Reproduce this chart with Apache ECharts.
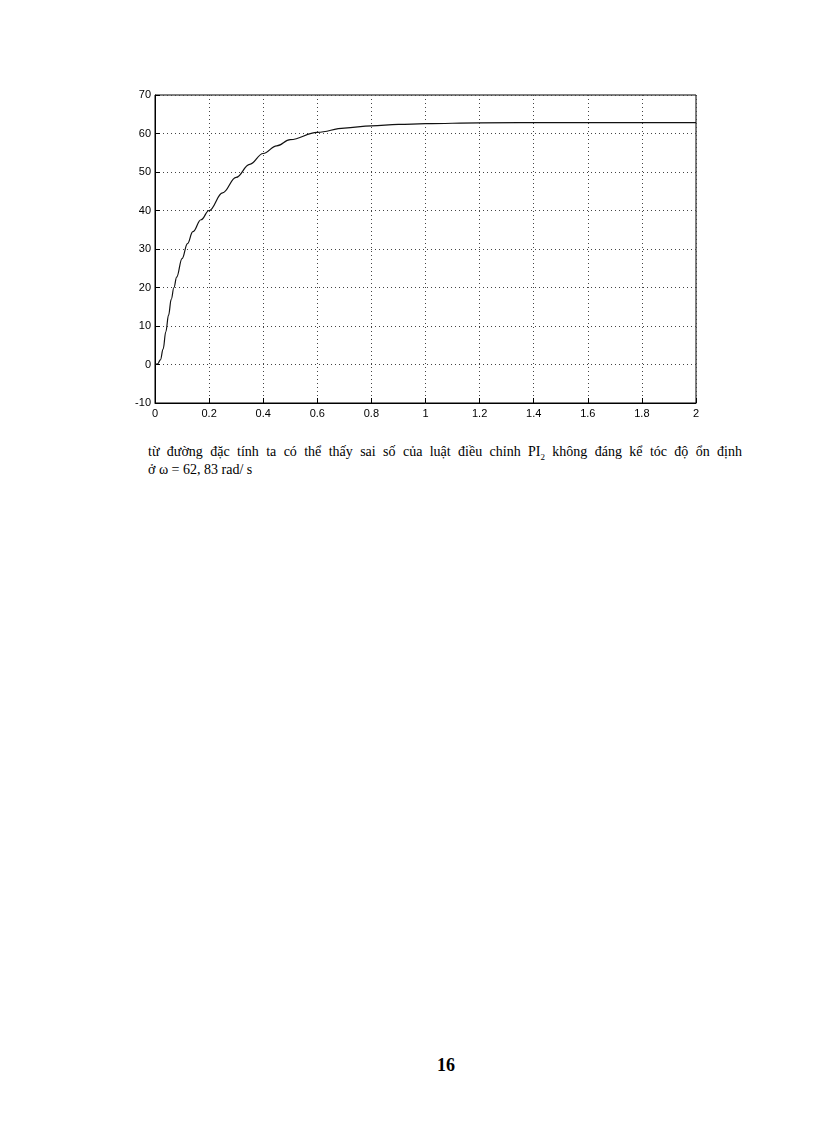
<!DOCTYPE html><html><head><meta charset="utf-8">
<script src="https://cdn.jsdelivr.net/npm/echarts@6/dist/echarts.min.js"></script>
<style>body{margin:0;background:#fff;width:816px;height:1123px;position:relative;font-family:"Liberation Serif",serif}
#c{position:absolute;left:0;top:0;width:816px;height:440px}
.t{position:absolute;left:148px;width:594px;font-size:14px;line-height:18px;text-align:justify;text-align-last:justify}
</style></head><body>
<div id="c"></div>
<div class="t" style="top:443px">từ đường đặc tính ta có thể thấy sai số của luật điều chỉnh PI<sub style="font-size:9px">2</sub> không đáng kể tóc độ ổn định</div>
<div class="t" style="top:461px;text-align-last:left">ở ω = 62, 83 rad/ s</div>
<div style="position:absolute;top:1055px;left:0;width:892px;text-align:center;font-size:18px;font-weight:bold">16</div>
<script>
const tVals=[0,0.01,0.02,0.03,0.04,0.05,0.06,0.07,0.08,0.1,0.12,0.14,0.17,0.2,0.25,0.3,0.35,0.4,0.45,0.5,0.6,0.7,0.8,0.9,1.0,1.2,1.5,2.0];
const yVals=[0,0.2,1.2,4,8.5,12.8,16.9,20,22.7,27.5,31.4,34.5,37.6,40,44.6,48.6,52,54.8,56.8,58.4,60.3,61.4,62,62.35,62.55,62.78,62.83,62.83];
const ch=echarts.init(document.getElementById('c'));
const lbl={color:'#000',fontSize:11,fontFamily:'Liberation Sans'};
ch.setOption({animation:false,
grid:{left:155,top:95,width:541,height:308,show:true,borderColor:'#000',borderWidth:1},
xAxis:{type:'value',min:0,max:2,interval:0.2,axisLine:{onZero:false,lineStyle:{color:'#000'}},axisTick:{inside:true,lineStyle:{color:'#000'}},
 splitLine:{show:true,lineStyle:{type:[1,3],color:'#444'}},axisLabel:Object.assign({margin:5,formatter:v=>String(+v.toFixed(1))},lbl)},
yAxis:{type:'value',min:-10,max:70,interval:10,axisLine:{show:true,lineStyle:{color:'#000'}},axisTick:{show:true,inside:true,lineStyle:{color:'#000'}},
 splitLine:{show:true,lineStyle:{type:[1,3],color:'#444'}},axisLabel:Object.assign({margin:4},lbl)},
series:[{type:'line',smooth:0.4,smoothMonotone:'x',symbol:'none',data:tVals.map((t,i)=>[t,yVals[i]]),lineStyle:{color:'#111',width:1.2}}]});
</script></body></html>
